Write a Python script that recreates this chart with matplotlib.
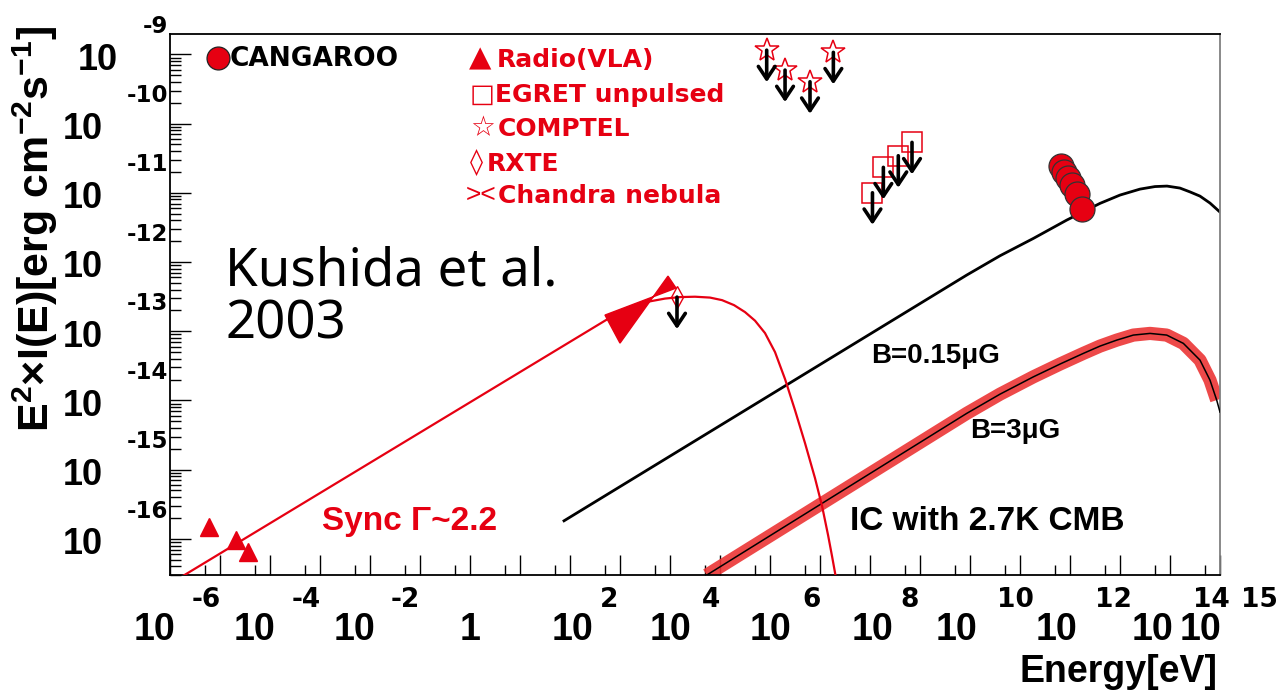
import numpy as np
import matplotlib
matplotlib.use("Agg")
import matplotlib.pyplot as plt
from matplotlib.ticker import FixedLocator, LogLocator, NullFormatter
from matplotlib.transforms import offset_copy, blended_transform_factory
from matplotlib.patches import Polygon
from matplotlib.lines import Line2D

plt.rcParams["mathtext.default"] = "regular"

W, H, DPI = 1278, 693, 100
RED = "#e60012"
BAND = "#ec3535"

# ---------------- data: energy [eV], E^2 I(E) [erg cm^-2 s^-1] ----------------
# synchrotron model
sync_energy = [1.0e-6, 1.0e3, 2.0e3, 3.98e3, 7.94e3, 1.58e4, 3.16e4, 6.31e4,
               1.10e5, 1.91e5, 3.16e5, 5.01e5, 7.94e5, 1.26e6, 2.0e6, 3.16e6,
               5.01e6, 7.94e6, 1.10e7, 1.45e7, 1.74e7, 2.09e7, 2.51e7]
sync_flux = [2.24e-17, 1.92e-13, 2.35e-13, 2.70e-13, 2.96e-13, 3.11e-13, 3.15e-13,
             3.06e-13, 2.81e-13, 2.38e-13, 1.89e-13, 1.42e-13, 9.40e-14, 4.99e-14,
             2.03e-14, 7.24e-15, 2.42e-15, 7.54e-16, 2.97e-16, 1.13e-16, 5.62e-17,
             2.70e-17, 1.30e-17]

# inverse Compton on the CMB, B = 0.15 microgauss
ic_low_b_energy = [7.59e1, 8.59e9, 3.98e10, 1.85e11, 8.59e11, 3.98e12, 1.0e13,
                   2.51e13, 5.01e13, 8.71e13, 1.58e14, 2.51e14, 3.98e14, 6.31e14, 1.0e15]
ic_low_b_flux = [1.82e-16, 6.47e-13, 1.23e-12, 2.19e-12, 4.03e-12, 7.03e-12, 9.27e-12,
                 1.13e-11, 1.23e-11, 1.25e-11, 1.17e-11, 1.03e-11, 8.95e-12, 7.10e-12,
                 5.26e-12]

# inverse Compton on the CMB, B = 3 microgauss
ic_high_b_energy = [5.42e4, 8.59e9, 3.98e10, 1.85e11, 6.31e11, 1.85e12, 3.98e12,
                    8.59e12, 1.85e13, 3.98e13, 8.59e13, 1.85e14, 3.98e14, 6.31e14,
                    8.59e14, 1.0e15]
ic_high_b_flux = [2.99e-17, 6.49e-15, 1.23e-14, 2.19e-14, 3.35e-14, 4.78e-14, 6.09e-14,
                  7.43e-14, 8.79e-14, 9.29e-14, 8.79e-14, 6.67e-14, 3.82e-14, 1.96e-14,
                  1.01e-14, 6.78e-15]

# measurements
radio_energy = [6.03e-6, 2.09e-5, 3.63e-5]
radio_flux = [1.48e-16, 9.57e-17, 6.43e-17]

cangaroo_energy = [6.76e11, 7.76e11, 9.12e11, 1.10e12, 1.35e12, 1.70e12]
cangaroo_flux = [2.47e-11, 2.02e-11, 1.63e-11, 1.31e-11, 9.57e-12, 5.92e-12]

egret_energy = [1.12e8, 1.85e8, 3.68e8, 6.92e8]
egret_flux = [1.0e-11, 2.33e-11, 3.43e-11, 5.35e-11]

comptel_energy = [8.59e5, 2.0e6, 6.31e6, 1.85e7]
comptel_flux = [1.15e-9, 5.93e-10, 4.02e-10, 1.07e-9]

rxte_energy = [1.38e4]
rxte_flux = [3.11e-13]

# Chandra nebula bow-tie corners
chandra_energy = [5.01e2, 1.32e4, 9.12e3, 1.0e3]
chandra_flux = [1.71e-13, 4.20e-13, 6.25e-13, 6.73e-14]

# axis tick decades and their printed exponents
x_decades = [-6, -4, -2, 0, 2, 4, 6, 8, 10, 12, 14, 15]
y_decades = [-9, -10, -11, -12, -13, -14, -15, -16]

# ---------------- figure ----------------
fig = plt.figure(figsize=(W / DPI, H / DPI), dpi=DPI)
ax = fig.add_axes([170 / W, 1 - 575 / H, 1050 / W, 541 / H])
ax.set_xscale("log")
ax.set_yscale("log")
ax.set_xlim(1e-6, 1e15)
ax.set_ylim(3.0e-17, 1.97e-9)

ax.xaxis.set_major_locator(FixedLocator(10.0 ** np.arange(-6, 16)))
ax.xaxis.set_minor_locator(FixedLocator(5 * 10.0 ** np.arange(-6, 15)))
ax.yaxis.set_major_locator(LogLocator(base=10, numticks=40))
ax.yaxis.set_minor_locator(LogLocator(base=10, subs=np.arange(2, 10), numticks=40))
for axis in (ax.xaxis, ax.yaxis):
    axis.set_major_formatter(NullFormatter())
    axis.set_minor_formatter(NullFormatter())
ax.tick_params(axis="x", which="major", direction="in", length=14.4, width=1.0,
               bottom=True, top=False)
ax.tick_params(axis="x", which="minor", direction="in", length=7.2, width=1.0,
               bottom=True, top=False)
ax.tick_params(axis="y", which="major", direction="in", length=15, width=1.0,
               left=True, right=False)
ax.tick_params(axis="y", which="minor", direction="in", length=8, width=1.0,
               left=True, right=False)
for side in ("left", "bottom", "top"):
    ax.spines[side].set_linewidth(1.3)
    ax.spines[side].set_color("black")
ax.spines["right"].set_linewidth(1.3)
ax.spines["right"].set_color("#808080")

# ---------------- model curves ----------------
ax.plot(ic_low_b_energy, ic_low_b_flux, color="black", lw=2.0, zorder=2,
        solid_joinstyle="round")
ax.plot(ic_high_b_energy[:-1], ic_high_b_flux[:-1], color=BAND, lw=9.5, alpha=0.9,
        solid_capstyle="butt", solid_joinstyle="round", zorder=2)
ax.plot(ic_high_b_energy, ic_high_b_flux, color="black", lw=1.1, zorder=3,
        solid_joinstyle="round")
ax.plot(sync_energy, sync_flux, color=RED, lw=1.6, zorder=4, solid_joinstyle="round")
ax.add_patch(Polygon(list(zip(chandra_energy, chandra_flux)), closed=True,
                     facecolor=RED, edgecolor=RED, lw=1.0, zorder=5))

# ---------------- measurements ----------------
ax.plot(radio_energy, radio_flux, ls="none", marker="^", ms=12.5, color=RED, zorder=6)
ax.plot(egret_energy, egret_flux, ls="none", marker="s", ms=14, mfc="none",
        mec=RED, mew=1.1, zorder=6)
ax.plot(comptel_energy, comptel_flux, ls="none", marker="*", ms=18, mfc="none",
        mec=RED, mew=1.1, zorder=6)
ax.plot(rxte_energy, rxte_flux, ls="none", marker="d", ms=11, mfc="none",
        mec=RED, mew=1.0, zorder=6)
ax.plot(cangaroo_energy, cangaroo_flux, ls="none", marker="o", ms=18, mfc=RED,
        mec="#333333", mew=0.9, zorder=7)

# upper-limit arrows
ARROW_PX = 32
tip_trans = offset_copy(ax.transData, fig=fig, x=0, y=-ARROW_PX, units="dots")
for e, f in zip(egret_energy + comptel_energy + rxte_energy,
                egret_flux + comptel_flux + rxte_flux):
    ax.annotate("", xy=(e, f), xycoords=tip_trans, xytext=(e, f), textcoords="data",
                arrowprops=dict(arrowstyle="->,head_length=0.6,head_width=0.4",
                                lw=2.6, color="black", shrinkA=0, shrinkB=0,
                                mutation_scale=15), zorder=8)

# ---------------- tick labels ----------------
BASE_FONT = dict(family="Liberation Sans", fontweight="bold")
EXP_FONT = dict(family="DejaVu Sans", fontweight="bold")

x_trans = blended_transform_factory(ax.transData, ax.transAxes)
x_base_dx = [-15, -15, -15, 0, 3, 0, 1, 2, -14, -13, -17, -19]
x_exp_dx = [36.5, 36.5, 35.6, 0, 39, 40.7, 41.8, 40, 45, 43.5, 41.8, 39.6]
for d, bdx, edx in zip(x_decades, x_base_dx, x_exp_dx):
    base = "1" if d == 0 else "10"
    ax.text(10.0 ** d, 0, base, transform=offset_copy(x_trans, fig=fig, x=bdx, y=-65,
                                                       units="dots"),
            ha="center", va="baseline", fontsize=27, clip_on=False, **BASE_FONT)
    if d != 0:
        ax.text(10.0 ** d, 0, str(d),
                transform=offset_copy(x_trans, fig=fig, x=edx, y=-32, units="dots"),
                ha="center", va="baseline", fontsize=19, clip_on=False, **EXP_FONT)

y_trans = blended_transform_factory(ax.transAxes, ax.transData)
for i, d in enumerate(y_decades):
    bdx = -72 if i == 0 else -87
    ax.text(0, 10.0 ** d, "10", transform=offset_copy(y_trans, fig=fig, x=bdx, y=-15.5,
                                                       units="dots"),
            ha="center", va="baseline", fontsize=26, clip_on=False, **BASE_FONT)
    ax.text(0, 10.0 ** d, str(d), transform=offset_copy(y_trans, fig=fig, x=-2, y=21.3,
                                                         units="dots"),
            ha="right", va="baseline", fontsize=16.5, clip_on=False, **EXP_FONT)


def P(x, y):
    return x / W, 1 - y / H


# axis titles
fig.text(*P(35, 229), "E$^{2}$×I(E)[erg cm$^{-2}$s$^{-1}$]", rotation=90,
         ha="center", va="center", fontsize=31, **BASE_FONT)
fig.text(*P(1218, 682), "Energy[eV]", ha="right", va="baseline", fontsize=27,
         **BASE_FONT)

# ---------------- legend ----------------
LEG = dict(family="DejaVu Sans", fontweight="bold", fontsize=18, ha="left",
           va="baseline")
SYM = dict(family="DejaVu Sans", color=RED, ha="left", va="baseline")
fig.add_artist(Line2D([218.3 / W], [1 - 58.3 / H], transform=fig.transFigure,
                      marker="o", ms=16.5, mfc=RED, mec="#222222", mew=0.9, ls="none"))
fig.text(*P(230, 65.7), "CANGAROO", color="black",
         **{**LEG, "fontsize": 19})

fig.text(*P(469, 66), "▲", fontsize=21, **SYM)
fig.text(*P(496.7, 66.7), "Radio(VLA)", color=RED, **LEG)
fig.text(*P(470, 101.7), "□", fontsize=19, **SYM)
fig.text(*P(495, 101.7), "EGRET unpulsed", color=RED, **LEG)
fig.text(*P(470, 136), "☆", fontsize=20, **SYM)
fig.text(*P(498, 136), "COMPTEL", color=RED, **LEG)
fig.text(*P(470, 171), "◊", fontsize=19, **SYM)
fig.text(*P(486.7, 170.7), "RXTE", color=RED, **LEG)
fig.text(*P(466, 202), "><", fontsize=19, family="Liberation Sans", color=RED,
         ha="left", va="baseline")
fig.text(*P(498.3, 203.3), "Chandra nebula", color=RED, **LEG)

# ---------------- annotations ----------------
fig.text(*P(225, 286), "Kushida et al.", family="Noto Sans", fontsize=38,
         color="black", ha="left", va="baseline")
fig.text(*P(226, 338), "2003", family="Noto Sans", fontsize=38,
         color="black", ha="left", va="baseline")

LBL = dict(family="Liberation Sans", fontweight="bold", ha="left", va="baseline")
fig.text(*P(322, 530), "Sync Γ~2.2", color=RED, fontsize=24, **LBL)
fig.text(*P(871, 363.3), "B=0.15μG", color="black", fontsize=20, **LBL)
fig.text(*P(970, 438.3), "B=3μG", color="black", fontsize=20, **LBL)
fig.text(*P(850, 530), "IC with 2.7K CMB", color="black", fontsize=24, **LBL)

fig.savefig("out.png", dpi=DPI)
